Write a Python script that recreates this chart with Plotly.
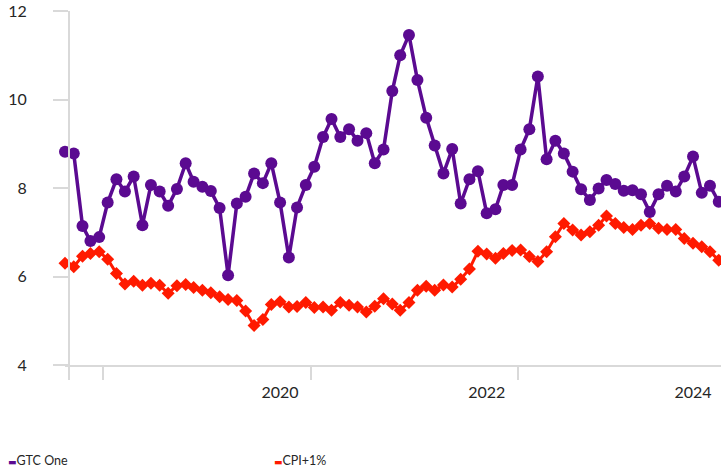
import pandas as pd
import plotly.graph_objects as go

dates = pd.date_range("2017-12-01", periods=77, freq="MS")

gtc_one = [8.82, 8.78, 7.14, 6.80, 6.89, 7.67, 8.20, 7.92, 8.26, 7.16,
           8.07, 7.92, 7.60, 7.98, 8.56, 8.14, 8.03, 7.93, 7.55, 6.03,
           7.65, 7.80, 8.33, 8.11, 8.56, 7.67, 6.43, 7.56, 8.07, 8.48,
           9.15, 9.56, 9.15, 9.33, 9.07, 9.24, 8.56, 8.87, 10.19, 11.00,
           11.46, 10.44, 9.59, 8.96, 8.33, 8.88, 7.65, 8.20, 8.38, 7.43,
           7.52, 8.07, 8.07, 8.87, 9.33, 10.52, 8.65, 9.07, 8.78, 8.37,
           7.97, 7.73, 7.99, 8.18, 8.09, 7.94, 7.95, 7.86, 7.46, 7.86,
           8.05, 7.92, 8.26, 8.71, 7.89, 8.05, 7.69]

cpi_plus_1 = [6.30, 6.22, 6.46, 6.52, 6.56, 6.39, 6.07, 5.83, 5.89, 5.80,
              5.85, 5.80, 5.62, 5.79, 5.82, 5.75, 5.69, 5.63, 5.54, 5.48,
              5.46, 5.22, 4.89, 5.03, 5.37, 5.43, 5.31, 5.32, 5.41, 5.30,
              5.31, 5.24, 5.41, 5.35, 5.31, 5.20, 5.33, 5.50, 5.38, 5.24,
              5.41, 5.69, 5.78, 5.69, 5.81, 5.76, 5.94, 6.17, 6.57, 6.51,
              6.41, 6.52, 6.59, 6.60, 6.45, 6.34, 6.56, 6.90, 7.20, 7.05,
              6.94, 7.01, 7.16, 7.37, 7.20, 7.11, 7.06, 7.16, 7.20, 7.09,
              7.06, 7.06, 6.86, 6.75, 6.67, 6.56, 6.37]

year_tick_dates = ["2020-01-01", "2022-01-01", "2024-01-01"]
year_tick_labels = ["2020", "2022", "2024"]
x_mark_dates = ["2017-12-15", "2018-04-13", "2020-04-18", "2022-04-21"]

series_names = ["GTC One", "CPI+1%"]

PURPLE = "#5B0A91"
RED = "#FF1A00"
AXIS = "#D9D9D9"
TEXT = "#262626"

fig = go.Figure()
fig.add_trace(go.Scatter(
    x=dates, y=cpi_plus_1, mode="lines+markers", name=series_names[1],
    line=dict(color=RED, width=3),
    marker=dict(symbol="diamond", size=10, color=RED),
    cliponaxis=False, showlegend=False))
fig.add_trace(go.Scatter(
    x=dates, y=gtc_one, mode="lines+markers", name=series_names[0],
    line=dict(color=PURPLE, width=3.5),
    marker=dict(symbol="circle", size=12, color=PURPLE),
    cliponaxis=False, showlegend=False))

# legend keys (bottom)
L, T, W, H = 65, 11, 656, 354
for name, col, px in [(series_names[0], PURPLE, 6), (series_names[1], RED, 272)]:
    fig.add_annotation(
        xref="paper", yref="paper",
        x=(px - L) / W, y=(T + H - 460) / H,
        xanchor="left", yanchor="middle", showarrow=False,
        text=(f"<span style='color:{col};font-size:9px;font-family:DejaVu Sans'>▬</span>"
              f"{name}"),
        font=dict(family="Lato", size=12.5, color=TEXT))

fig.update_layout(
    width=721, height=473,
    margin=dict(l=L, r=721 - L - W, t=T, b=473 - T - H, autoexpand=False),
    paper_bgcolor="white", plot_bgcolor="white",
    font=dict(family="Lato", size=16, color=TEXT),
    showlegend=False,
    xaxis=dict(
        type="date", domain=[0, 1],
        range=["2017-12-01", "2024-04-09"],
        tickmode="array", tickvals=year_tick_dates, ticktext=year_tick_labels,
        ticks="", showgrid=False, zeroline=False,
        showline=True, linecolor=AXIS, linewidth=2,
        ticklabelstandoff=12, ticklabeloverflow="allow",
        minor=dict(tickmode="array", tickvals=x_mark_dates, ticks="outside",
                   ticklen=13, tickcolor=AXIS, tickwidth=2, showgrid=False),
    ),
    yaxis=dict(
        range=[4, 12], tickvals=[4, 6, 8, 10, 12],
        anchor="free", position=4 / W,
        ticks="outside", ticklen=15, tickcolor=AXIS, tickwidth=2,
        showgrid=False, zeroline=False,
        showline=True, linecolor=AXIS, linewidth=2,
        ticklabelstandoff=23, ticklabeloverflow="allow",
    ),
)

fig.write_html("out.html", config={"displayModeBar": False},
               post_script="document.body.style.margin='0';")
